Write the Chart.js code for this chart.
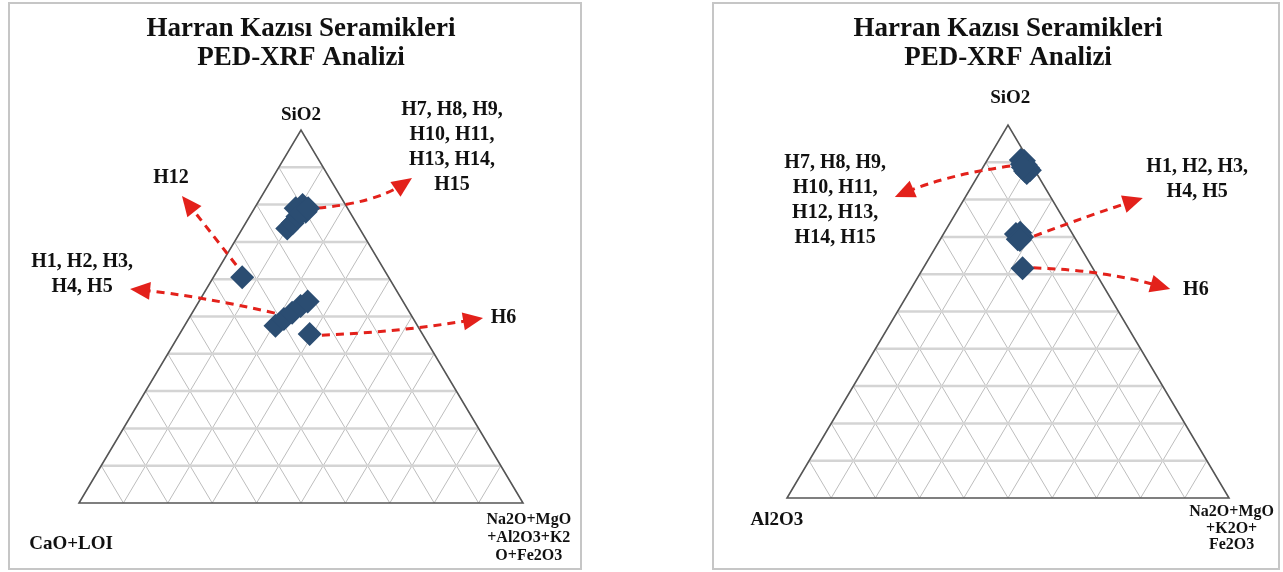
<!DOCTYPE html>
<html>
<head>
<meta charset="utf-8">
<script src="https://cdn.jsdelivr.net/npm/chart.js@4.4.1/dist/chart.umd.min.js"></script>
<style>
  body { margin: 0; background: #fff; width: 1283px; height: 572px; overflow: hidden; position: relative; }
  .panel { position: absolute; top: 2px; height: 564px; border: 2px solid #c6c6c6; background: #fff; }
  #leftPanel { left: 8px; width: 570px; }
  #rightPanel { left: 712px; width: 564px; }
  canvas { display: block; }
</style>
</head>
<body>
<div class="panel" id="leftPanel"><canvas id="chartLeft" width="570" height="564" style="width:570px;height:564px"></canvas></div>
<div class="panel" id="rightPanel"><canvas id="chartRight" width="564" height="564" style="width:564px;height:564px"></canvas></div>
<script>
// Sample codes
const samples = ['H1', 'H2', 'H3', 'H4', 'H5', 'H6', 'H7', 'H8', 'H9', 'H10', 'H11', 'H12', 'H13', 'H14', 'H15'];

// Diagram 1: SiO2 / CaO+LOI / Na2O+MgO+Al2O3+K2O+Fe2O3 (normalised %)
const leftSiO2   = [47.5, 49.3, 51.0, 52.8, 54.0, 45.3, 73.6, 75.0, 76.8, 79.0, 79.9, 60.5, 78.1, 77.7, 79.0];
const leftCaOLoi = [32.0, 29.2, 26.5, 23.7, 21.5, 25.4, 16.3, 14.4, 12.4, 11.7,  9.7, 33.0,  9.9, 11.2,  8.9];
const leftOthers = [20.5, 21.5, 22.5, 23.5, 24.5, 29.3, 10.1, 10.6, 10.8,  9.3, 10.4,  6.5, 12.0, 11.1, 12.1];

// Diagram 2: SiO2 / Al2O3 / Na2O+MgO+K2O+Fe2O3 (normalised %)
const rightSiO2   = [70.8, 71.1, 70.0, 69.4, 69.2, 61.6, 90.6, 90.4, 89.5, 89.3, 88.5, 87.9, 87.7, 87.1, 88.7];
const rightAl2O3  = [12.8, 11.7, 11.8, 13.1, 12.7, 15.9,  1.8,  1.2,  2.1,  1.3,  1.2,  1.1,  2.3,  2.2,  2.3];
const rightOthers = [16.4, 17.2, 18.2, 17.5, 18.1, 22.5,  7.6,  8.4,  8.4,  9.4, 10.3, 11.0, 10.0, 10.7,  9.0];

// Grid every 10 %
const gridSteps = [10, 20, 30, 40, 50, 60, 70, 80, 90];

const titleLines = ['Harran Kazısı Seramikleri', 'PED-XRF Analizi'];

const leftCorners = [
  { lines: ['SiO2'], at: [50, 104], size: 19 },
  { lines: ['CaO+LOI'], at: [-1.8, -11], size: 19 },
  { lines: ['Na2O+MgO', '+Al2O3+K2', 'O+Fe2O3'], at: [101.3, -4.6], size: 16, step: 18 }
];
const rightCorners = [
  { lines: ['SiO2'], at: [50.5, 107.2], size: 19 },
  { lines: ['Al2O3'], at: [-2.3, -5.9], size: 19 },
  { lines: ['Na2O+MgO', '+K2O+', 'Fe2O3'], at: [100.6, -3.8], size: 16, step: 16.5 }
];

// group labels with their arrows (triangle plane units, base 0..100, height 0..100)
const leftGroups = [
  { lines: ['H7, H8, H9,', 'H10, H11,', 'H13, H14,', 'H15'], at: [84.0, 105.4], arrow: { from: [53.8, 79.1], via: [66.7, 80.4], to: [75.0, 87.1] } },
  { lines: ['H12'], at: [20.7, 87.1], arrow: { from: [35.4, 63.8], via: [28.4, 74.5], to: [23.2, 82.3] } },
  { lines: ['H1, H2, H3,', 'H4, H5'], at: [0.7, 64.6], arrow: { from: [44.1, 50.9], via: [27.3, 55.5], to: [11.5, 57.4] } },
  { lines: ['H6'], at: [95.6, 49.6], arrow: { from: [54.7, 45.0], via: [72.3, 45.8], to: [91.0, 49.6] } }
];
const rightGroups = [
  { lines: ['H7, H8, H9,', 'H10, H11,', 'H12, H13,', 'H14, H15'], at: [10.9, 89.8], arrow: { from: [50.5, 89.0], via: [36.0, 86.6], to: [24.4, 80.7] } },
  { lines: ['H1, H2, H3,', 'H4, H5'], at: [92.8, 88.7], arrow: { from: [55.9, 70.2], via: [68.6, 75.9], to: [80.5, 80.4] } },
  { lines: ['H6'], at: [92.5, 55.8], arrow: { from: [55.7, 61.7], via: [71.9, 61.1], to: [86.7, 56.0] } }
];

const SERIF = "'Liberation Serif', 'Times New Roman', serif";
const POINT_COLOR = '#2b4d72';
const ARROW_COLOR = '#e3211b';

// ternary -> cartesian (equal-sided triangle stretched to the chart area)
function ternaryPoints(top, left, right) {
  return top.map((t, i) => {
    const sum = t + left[i] + right[i];
    return { x: (right[i] + t / 2) / sum * 100, y: t / sum * 100 };
  });
}

const ternaryPlugin = {
  id: 'ternaryPlugin',
  beforeDatasetsDraw(chart, args, opts) {
    const { ctx, scales: { x, y } } = chart;
    const px = (a, b) => [x.getPixelForValue(a), y.getPixelForValue(b)];
    const seg = (p, q) => { ctx.beginPath(); ctx.moveTo(...px(...p)); ctx.lineTo(...px(...q)); ctx.stroke(); };

    ctx.save();
    // diagonal grid
    ctx.strokeStyle = '#bdbdbd';
    ctx.lineWidth = 1;
    gridSteps.forEach(k => {
      seg([k, 0], [k + (100 - k) / 2, 100 - k]);
      seg([100 - k, 0], [(100 - k) / 2, 100 - k]);
    });
    // horizontal grid
    ctx.strokeStyle = '#d4d4d4';
    ctx.lineWidth = 2.5;
    gridSteps.forEach(k => seg([k / 2, k], [100 - k / 2, k]));
    // outline
    ctx.strokeStyle = '#555';
    ctx.lineWidth = 1.6;
    ctx.beginPath();
    ctx.moveTo(...px(0, 0));
    ctx.lineTo(...px(100, 0));
    ctx.lineTo(...px(50, 100));
    ctx.closePath();
    ctx.stroke();

    // dashed callout arrows
    opts.groups.forEach(g => {
      const a = px(...g.arrow.from), c = px(...g.arrow.via), b = px(...g.arrow.to);
      const ang = Math.atan2(b[1] - c[1], b[0] - c[0]);
      ctx.strokeStyle = ARROW_COLOR;
      ctx.lineWidth = 3;
      ctx.setLineDash([8, 6]);
      ctx.beginPath();
      ctx.moveTo(...a);
      ctx.quadraticCurveTo(...c, b[0] - 10 * Math.cos(ang), b[1] - 10 * Math.sin(ang));
      ctx.stroke();
      ctx.setLineDash([]);
      ctx.fillStyle = ARROW_COLOR;
      ctx.beginPath();
      ctx.moveTo(...b);
      ctx.lineTo(b[0] - 20 * Math.cos(ang) + 9 * Math.sin(ang), b[1] - 20 * Math.sin(ang) - 9 * Math.cos(ang));
      ctx.lineTo(b[0] - 20 * Math.cos(ang) - 9 * Math.sin(ang), b[1] - 20 * Math.sin(ang) + 9 * Math.cos(ang));
      ctx.closePath();
      ctx.fill();
    });
    ctx.restore();
  },
  afterDatasetsDraw(chart, args, opts) {
    const { ctx, scales: { x, y } } = chart;
    ctx.save();
    ctx.fillStyle = '#111';
    ctx.textAlign = 'center';
    ctx.textBaseline = 'middle';
    const write = (lines, at, size, step) => {
      ctx.font = `bold ${size}px ${SERIF}`;
      const cx = x.getPixelForValue(at[0]);
      const cy = y.getPixelForValue(at[1]);
      lines.forEach((t, i) => ctx.fillText(t, cx, cy + i * step));
    };
    opts.corners.forEach(c => write(c.lines, c.at, c.size, c.step || 20));
    opts.groups.forEach(g => write(g.lines, g.at, 20, 25));
    ctx.restore();
  }
};

function buildChart(canvasId, points, corners, groups, pad, titleGap) {
  return new Chart(document.getElementById(canvasId), {
    type: 'scatter',
    data: {
      datasets: [{
        data: points,
        pointStyle: 'rectRot',
        pointRadius: 12,
        pointHoverRadius: 12,
        backgroundColor: POINT_COLOR,
        borderWidth: 0
      }]
    },
    options: {
      responsive: false,
      animation: false,
      devicePixelRatio: 1,
      layout: { padding: pad },
      scales: {
        x: { type: 'linear', min: 0, max: 100, display: false },
        y: { type: 'linear', min: 0, max: 100, display: false }
      },
      plugins: {
        legend: { display: false },
        tooltip: { enabled: false },
        title: {
          display: true,
          text: titleLines,
          color: '#111',
          font: { family: SERIF, size: 27, weight: 'bold', lineHeight: 1.08 },
          padding: { top: 6, bottom: titleGap }
        },
        ternaryPlugin: { corners, groups }
      }
    },
    plugins: [ternaryPlugin]
  });
}

buildChart('chartLeft', ternaryPoints(leftSiO2, leftCaOLoi, leftOthers), leftCorners, leftGroups,
  { left: 69, right: 57, top: 4, bottom: 65 }, 57.68);
buildChart('chartRight', ternaryPoints(rightSiO2, rightAl2O3, rightOthers), rightCorners, rightGroups,
  { left: 73, right: 49, top: 4, bottom: 70 }, 52.68);
</script>
</body>
</html>
